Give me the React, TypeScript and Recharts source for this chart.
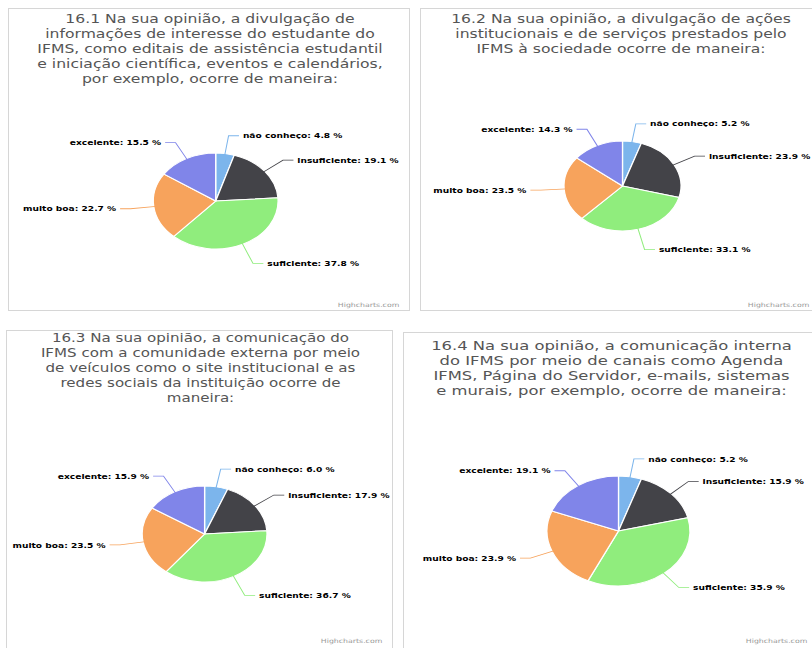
import React from "react"
import { PieChart, Pie, Cell } from "recharts"

const categories = ["não conheço", "insuficiente", "suficiente", "muito boa", "excelente"]
const colors = ["#7cb5ec", "#434348", "#90ed7d", "#f7a35c", "#8085e9"]

const values161 = [4.8, 19.1, 37.8, 22.7, 15.5]
const values162 = [5.2, 23.9, 33.1, 23.5, 14.3]
const values163 = [6.0, 17.9, 36.7, 23.5, 15.9]
const values164 = [5.2, 15.9, 35.9, 23.9, 19.1]

const title161 = [
  "16.1 Na sua opinião, a divulgação de",
  "informações de interesse do estudante do",
  "IFMS, como editais de assistência estudantil",
  "e iniciação científica, eventos e calendários,",
  "por exemplo, ocorre de maneira:",
]
const title162 = [
  "16.2 Na sua opinião, a divulgação de ações",
  "institucionais e de serviços prestados pelo",
  "IFMS à sociedade ocorre de maneira:",
]
const title163 = [
  "16.3 Na sua opinião, a comunicação do",
  "IFMS com a comunidade externa por meio",
  "de veículos como o site institucional e as",
  "redes sociais da instituição ocorre de",
  "maneira:",
]
const title164 = [
  "16.4 Na sua opinião, a comunicação interna",
  "do IFMS por meio de canais como Agenda",
  "IFMS, Página do Servidor, e-mails, sistemas",
  "e murais, por exemplo, ocorre de maneira:",
]

// the screenshot is stretched sideways, so every panel is drawn narrow and scaled
const stretch = 1.3
const RADIAN = Math.PI / 180
const font = "DejaVu Sans, Verdana, sans-serif"

function toRows(values: number[]) {
  return categories.map((name, i) => ({ name, value: values[i] }))
}

function renderLabel(props: any) {
  const { cx, cy, midAngle, outerRadius, name, value, fill } = props
  const cos = Math.cos(-midAngle * RADIAN)
  const sin = Math.sin(-midAngle * RADIAN)
  const sx = cx + (outerRadius - 2) * cos
  const sy = cy + (outerRadius - 2) * sin
  const mx = cx + (outerRadius + 18) * cos
  const my = cy + (outerRadius + 18) * sin + (sin > 0.8 ? 3 : 0)
  const right = cos >= 0
  const ex = mx + (right ? 8 : -8)
  return (
    <g>
      <path d={`M${sx},${sy} L${mx},${my} L${ex},${my}`} stroke={fill} strokeWidth={0.8} fill="none" />
      <text
        x={ex + (right ? 3 : -3)}
        y={my}
        textAnchor={right ? "start" : "end"}
        dominantBaseline="central"
        fontSize={7}
        fontWeight="bold"
        fontFamily={font}
        fill="#000"
        stroke="#fff"
        strokeWidth={1.5}
        paintOrder="stroke"
      >
        {`${name}: ${value.toFixed(1)} %`}
      </text>
    </g>
  )
}

interface PanelProps {
  title: string[]
  values: number[]
  left: number
  top: number
  width: number
  height: number
  cx: number
  cy: number
  r: number
  titleTop: number
  titleSize: number
  creditTop: number
}

function Panel({ title, values, left, top, width, height, cx, cy, r, titleTop, titleSize, creditTop }: PanelProps) {
  const inner = width / stretch
  return (
    <div
      style={{
        position: "absolute",
        left,
        top,
        width,
        height,
        border: "1px solid #d6d6d6",
        boxSizing: "border-box",
        background: "#fff",
        overflow: "hidden",
      }}
    >
      <div
        style={{
          position: "absolute",
          left: 0,
          top: 0,
          width: inner,
          height,
          transform: `scaleX(${stretch})`,
          transformOrigin: "0 0",
        }}
      >
        <PieChart width={inner} height={height} margin={{ top: 0, right: 0, bottom: 0, left: 0 }}>
          <Pie
            data={toRows(values)}
            dataKey="value"
            nameKey="name"
            cx={cx}
            cy={cy}
            outerRadius={r}
            startAngle={90}
            endAngle={-270}
            stroke="#fff"
            strokeWidth={1}
            label={renderLabel}
            labelLine={false}
            isAnimationActive={false}
          >
            {values.map((_, i) => (
              <Cell key={i} fill={colors[i]} />
            ))}
          </Pie>
        </PieChart>
        <div
          style={{
            position: "absolute",
            left: 0,
            top: titleTop,
            width: inner,
            textAlign: "center",
            fontFamily: font,
            fontSize: titleSize,
            lineHeight: "15px",
            color: "#555",
            whiteSpace: "nowrap",
          }}
        >
          {title.map((line, i) => (
            <div key={i}>{line}</div>
          ))}
        </div>
        <div
          style={{
            position: "absolute",
            right: 9,
            top: creditTop,
            fontFamily: font,
            fontSize: 6,
            color: "#999",
          }}
        >
          Highcharts.com
        </div>
      </div>
    </div>
  )
}

export default function App() {
  return (
    <div
      style={{
        position: "absolute",
        left: 0,
        top: 0,
        width: 812,
        height: 648,
        overflow: "hidden",
        background: "#fff",
      }}
    >
      <Panel title={title161} values={values161} left={8} top={8} width={402} height={303} cx={159} cy={192} r={48} titleTop={3} titleSize={12} creditTop={292} />
      <Panel title={title162} values={values162} left={420} top={8} width={400} height={303} cx={155} cy={177} r={45} titleTop={3} titleSize={12} creditTop={292} />
      <Panel title={title163} values={values163} left={6} top={330} width={387} height={330} cx={152} cy={203} r={48} titleTop={0} titleSize={11.6} creditTop={306} />
      <Panel title={title164} values={values164} left={403} top={332} width={415} height={330} cx={165} cy={198} r={55} titleTop={5} titleSize={12.6} creditTop={304} />
    </div>
  )
}
